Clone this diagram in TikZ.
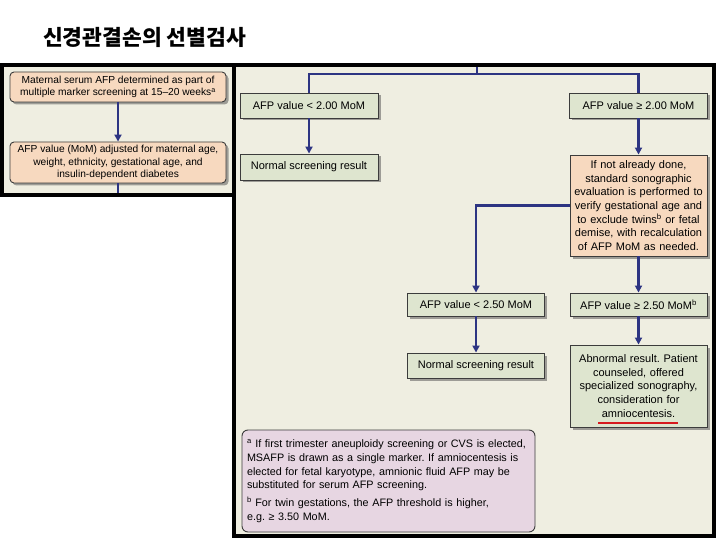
\documentclass[tikz,border=0pt]{standalone}
\usepackage{fontspec}
\setmainfont{Liberation Sans}
\newfontfamily\krfont{Noto Sans CJK KR}
\usepackage{tikz}
\usetikzlibrary{arrows.meta, positioning, calc, shadows}
\definecolor{panelbg}{RGB}{239,238,225}
\definecolor{boxgreen}{RGB}{222,229,207}
\definecolor{boxorange}{RGB}{247,217,191}
\definecolor{notepink}{RGB}{231,214,226}
\definecolor{boxline}{RGB}{60,60,60}
\definecolor{flowblue}{RGB}{45,52,130}
\definecolor{markred}{RGB}{215,25,30}
\frenchspacing

\begin{document}
\begin{tikzpicture}[
    x=1pt, y=-1pt,
    panel/.style={draw=black, line width=4pt, fill=panelbg},
    gbox/.style={draw=boxline, fill=boxgreen, line width=0.9pt, inner sep=2pt,
                 align=center, font=\fontsize{11}{13.7}\selectfont,
                 drop shadow={shadow xshift=2.5pt, shadow yshift=-2.5pt, fill=black!70}},
    obox/.style={gbox, fill=boxorange},
    lbox/.style={obox, rounded corners=4pt, font=\fontsize{10.2}{12.5}\selectfont},
    note/.style={draw=boxline, fill=notepink, line width=0.9pt, rounded corners=6pt,
                 align=left, inner sep=5pt, font=\fontsize{10.8}{13.8}\selectfont},
    flow/.style={draw=flowblue, line width=2.2pt},
    arr/.style={flow, -{Triangle[length=7pt, width=7pt]}},
]
\useasboundingbox (0,0) rectangle (720,540);

% title
\node[anchor=west, inner sep=0pt, font=\krfont\bfseries\fontsize{21.5}{24}\selectfont]
  (title) at (43,37) {신경관결손의 선별검사};

% panels
\draw[panel] (2,65) rectangle (233.5,195);
\draw[panel] (233.5,65) rectangle (714,536);

% left panel: screening
\node[lbox, minimum width=216pt, minimum height=30pt] (msafp) at (118,87)
  {Maternal serum AFP determined as part of\\
   multiple marker screening at 15--20 weeks\textsuperscript{a}};
\node[lbox, minimum width=216pt, minimum height=41pt] (adjust) at (118,162.5)
  {AFP value (MoM) adjusted for maternal age,\\
   weight, ethnicity, gestational age, and\\
   insulin-dependent diabetes};
\coordinate (lout) at (118,193);
\draw[arr] (msafp) -- (adjust);
\draw[flow] (adjust) -- (lout);

% right panel: first threshold 2.00 MoM
\coordinate (rin) at (477,67);
\coordinate (split) at (477,74);
\node[gbox, minimum width=138pt, minimum height=25pt] (low2) at (309,105.5)
  {AFP value < 2.00 MoM};
\node[gbox, minimum width=138pt, minimum height=25pt] (high2) at (638.5,105.5)
  {AFP value ≥ 2.00 MoM};
\node[gbox, minimum width=138pt, minimum height=26pt] (normA) at (309,167)
  {Normal screening result};
\node[obox, minimum width=137pt, minimum height=101pt, text width=133pt] (sono) at (638.5,205.5)
  {If not already done,\\
   standard sonographic\\
   evaluation is performed to\\
   verify gestational age and\\
   to exclude twins\textsuperscript{b} or fetal\\
   demise, with recalculation\\
   of AFP MoM as needed.};
\draw[flow] (rin) -- (split);
\draw[flow] (split) -| (low2);
\draw[flow] (split) -| (high2);
\draw[arr] (low2) -- (normA);
\draw[arr] (high2) -- (sono);

% right panel: second threshold 2.50 MoM
\node[gbox, minimum width=137pt, minimum height=23pt] (low25) at (476,304.5)
  {AFP value < 2.50 MoM};
\node[gbox, minimum width=137pt, minimum height=23pt] (high25) at (638.5,304.5)
  {AFP value ≥ 2.50 MoM\textsuperscript{b}};
\node[gbox, minimum width=137pt, minimum height=25pt] (normB) at (476,365.5)
  {Normal screening result};
\node[gbox, minimum width=137pt, minimum height=82pt, text width=133pt] (abnormal) at (638.5,386)
  {Abnormal result. Patient\\
   counseled, offered\\
   specialized sonography,\\
   consideration for\\
   amniocentesis.};
\draw[arr] (sono.west) -| (low25);
\draw[arr] (sono) -- (high25);
\draw[arr] (low25) -- (normB);
\draw[arr] (high25) -- (abnormal);
\draw[markred, line width=2.5pt] (598,423) -- (678,423);

% footnotes
\node[note, minimum width=293pt, minimum height=102pt, text width=283pt] (notes) at (388.5,481)
  {\textsuperscript{a} If first trimester aneuploidy screening or CVS is elected,\\
   MSAFP is drawn as a single marker. If amniocentesis is\\
   elected for fetal karyotype, amnionic fluid AFP may be\\
   substituted for serum AFP screening.\\[4pt]
   \textsuperscript{b} For twin gestations, the AFP threshold is higher,\\
   e.g. ≥ 3.50 MoM.};
\end{tikzpicture}
\end{document}
